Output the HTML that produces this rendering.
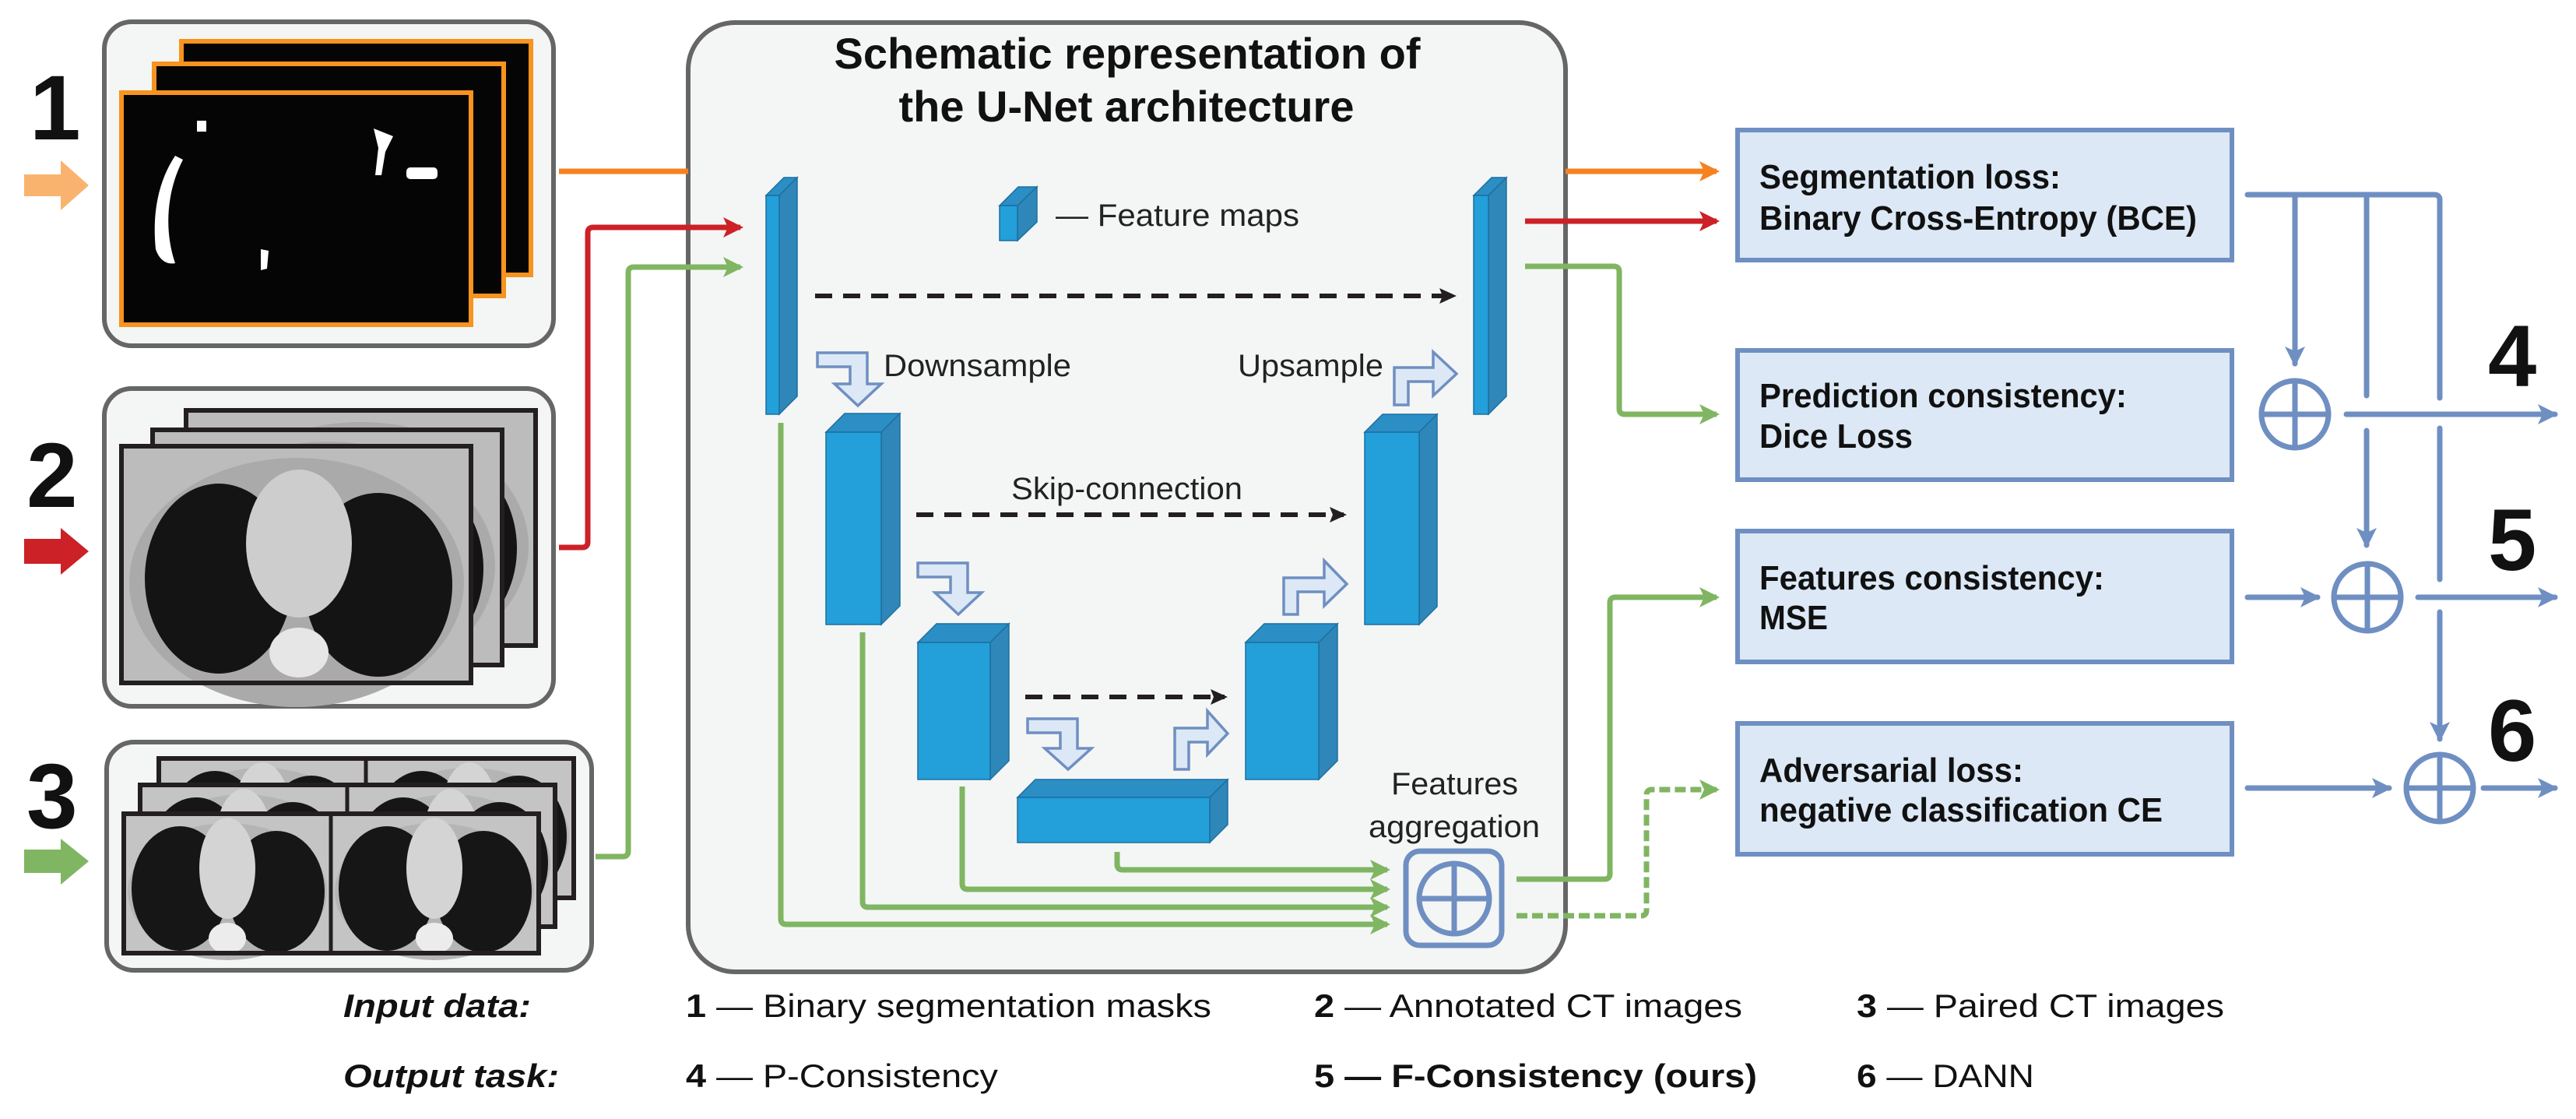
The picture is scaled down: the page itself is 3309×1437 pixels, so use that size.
<!DOCTYPE html>
<html><head><meta charset="utf-8"><style>
html,body{margin:0;padding:0;background:#fff}
svg{display:block}
text{font-family:"Liberation Sans",Arial,sans-serif}
</style></head><body>
<svg width="3309" height="1437" viewBox="0 0 3309 1437" xmlns="http://www.w3.org/2000/svg">
<defs>
<marker id="mo" markerUnits="userSpaceOnUse" markerWidth="34" markerHeight="34" refX="26" refY="17" orient="auto"><path d="M4,4 L30,17 L4,30 L10,17 Z" fill="#f58220"/></marker>
<marker id="mr" markerUnits="userSpaceOnUse" markerWidth="34" markerHeight="34" refX="26" refY="17" orient="auto"><path d="M4,4 L30,17 L4,30 L10,17 Z" fill="#cc2127"/></marker>
<marker id="mg" markerUnits="userSpaceOnUse" markerWidth="34" markerHeight="34" refX="26" refY="17" orient="auto"><path d="M4,4 L30,17 L4,30 L10,17 Z" fill="#80b562"/></marker>
<marker id="mb" markerUnits="userSpaceOnUse" markerWidth="34" markerHeight="34" refX="26" refY="17" orient="auto"><path d="M4,4 L30,17 L4,30 L10,17 Z" fill="#6f8fc2"/></marker>
<marker id="mk" markerUnits="userSpaceOnUse" markerWidth="30" markerHeight="30" refX="22" refY="15" orient="auto"><path d="M4,5 L26,15 L4,25 L8,15 Z" fill="#231f20"/></marker>
<g id="ct2">
<rect x="0" y="0" width="449" height="304" fill="#bcbcbc"/>
<ellipse cx="225" cy="175" rx="215" ry="160" fill="#aaaaaa"/>
<ellipse cx="125" cy="170" rx="95" ry="122" fill="#141414"/>
<ellipse cx="330" cy="178" rx="95" ry="118" fill="#141414"/>
<ellipse cx="228" cy="125" rx="68" ry="95" fill="#cdcdcd"/>
<ellipse cx="228" cy="265" rx="38" ry="32" fill="#e6e6e6"/>
</g>
<g id="ct3">
<rect x="0" y="0" width="266" height="179" fill="#c4c4c4"/>
<ellipse cx="133" cy="100" rx="128" ry="88" fill="#b5b5b5"/>
<ellipse cx="72" cy="96" rx="62" ry="80" fill="#161616"/>
<ellipse cx="196" cy="100" rx="62" ry="78" fill="#161616"/>
<ellipse cx="133" cy="70" rx="36" ry="65" fill="#d4d4d4"/>
<ellipse cx="133" cy="160" rx="24" ry="20" fill="#ececec"/>
</g>
<clipPath id="c2a"><rect x="0" y="0" width="449" height="304"/></clipPath>
</defs>

<!-- number labels & fat arrows -->
<text x="38" y="179" font-size="118" font-weight="bold" fill="#111">1</text>
<text x="34" y="651" font-size="118" font-weight="bold" fill="#111">2</text>
<text x="34" y="1063" font-size="118" font-weight="bold" fill="#111">3</text>
<path d="M31,224 H78 V206 L114,238 L78,270 V252 H31 Z" fill="#f9b36e"/>
<path d="M31,692 H78 V678 L114,708 L78,738 V724 H31 Z" fill="#cc2127"/>
<path d="M31,1091 H78 V1077 L114,1106 L78,1136 V1121 H31 Z" fill="#80b562"/>

<!-- Input box 1 -->
<rect x="134" y="28" width="577" height="416" rx="35" fill="#f4f6f5" stroke="#666" stroke-width="6"/>
<rect x="233" y="53" width="449" height="300" fill="#050505" stroke="#f7931e" stroke-width="6"/>
<rect x="198" y="82" width="449" height="298" fill="#050505" stroke="#f7931e" stroke-width="6"/>
<rect x="156" y="119" width="449" height="298" fill="#050505" stroke="#f7931e" stroke-width="6"/>
<path d="M225,200 C205,230 195,270 200,320 C205,335 215,340 225,338 C212,300 212,250 235,205 Z" fill="#fff"/>
<rect x="253" y="155" width="12" height="14" fill="#fff"/>
<path d="M480,165 L505,175 L495,195 L490,225 L482,225 L486,190 Z" fill="#fff"/>
<rect x="522" y="215" width="40" height="15" rx="5" fill="#fff"/>
<path d="M335,320 L345,322 L343,345 L335,347 Z" fill="#fff"/>

<!-- Input box 2 -->
<rect x="134" y="499" width="577" height="408" rx="35" fill="#f4f6f5" stroke="#666" stroke-width="6"/>
<g transform="translate(239,527)"><use href="#ct2" transform="scale(1,0.995)"/></g>
<rect x="239" y="527" width="449" height="302" fill="none" stroke="#231f20" stroke-width="6"/>
<g transform="translate(196,552)"><use href="#ct2"/></g>
<rect x="196" y="552" width="449" height="302" fill="none" stroke="#231f20" stroke-width="6"/>
<g transform="translate(156,573)"><use href="#ct2"/></g>
<rect x="156" y="573" width="449" height="304" fill="none" stroke="#231f20" stroke-width="6"/>

<!-- Input box 3 -->
<rect x="137" y="953" width="623" height="293" rx="35" fill="#f4f6f5" stroke="#666" stroke-width="6"/>
<use href="#ct3" x="204" y="974"/><use href="#ct3" x="470" y="974"/>
<rect x="204" y="974" width="533" height="179" fill="none" stroke="#231f20" stroke-width="6"/>
<line x1="470" y1="974" x2="470" y2="1153" stroke="#231f20" stroke-width="5"/>
<use href="#ct3" x="180" y="1008"/><use href="#ct3" x="446" y="1008"/>
<rect x="180" y="1008" width="533" height="182" fill="none" stroke="#231f20" stroke-width="6"/>
<line x1="446" y1="1008" x2="446" y2="1190" stroke="#231f20" stroke-width="5"/>
<use href="#ct3" x="159" y="1045"/><use href="#ct3" x="425" y="1045"/>
<rect x="159" y="1045" width="533" height="179" fill="none" stroke="#231f20" stroke-width="6"/>
<line x1="425" y1="1045" x2="425" y2="1224" stroke="#231f20" stroke-width="5"/>

<!-- U-Net big box -->
<rect x="884" y="29" width="1127" height="1219" rx="60" fill="#f4f6f5" stroke="#666" stroke-width="6"/>
<text x="1448" y="88" font-size="56" font-weight="bold" text-anchor="middle" textLength="753" lengthAdjust="spacingAndGlyphs" fill="#111">Schematic representation of</text>
<text x="1447" y="156" font-size="56" font-weight="bold" text-anchor="middle" textLength="585" lengthAdjust="spacingAndGlyphs" fill="#111">the U-Net architecture</text>

<!-- input connectors -->
<path d="M718,220 H884" stroke="#f58220" stroke-width="7" fill="none"/>
<path d="M718,703 H748 Q755,703 755,696 V299 Q755,292 762,292 H951" stroke="#cc2127" stroke-width="7" fill="none" marker-end="url(#mr)"/>
<path d="M765,1100 H800 Q807,1100 807,1093 V350 Q807,343 814,343 H951" stroke="#80b562" stroke-width="7" fill="none" marker-end="url(#mg)"/>

<!-- cuboids -->
<g stroke="#1d6fa0" stroke-width="1.5">
<!-- left thin -->
<polygon points="984,251 1007,228 1024,228 1001,251" fill="#2b8fc6"/><polygon points="1001,251 1024,228 1024,509 1001,532" fill="#2f86b9"/><rect x="984" y="251" width="17" height="281" fill="#239fd9"/>
<!-- legend -->
<polygon points="1284,264 1308,240 1332,240 1307,264" fill="#2b8fc6"/><polygon points="1307,264 1332,240 1332,285 1307,309" fill="#2f86b9"/><rect x="1284" y="264" width="23" height="45" fill="#239fd9"/>
<!-- right thin -->
<polygon points="1893,251 1916,228 1935,228 1912,251" fill="#2b8fc6"/><polygon points="1912,251 1935,228 1935,509 1912,532" fill="#2f86b9"/><rect x="1893" y="251" width="19" height="281" fill="#239fd9"/>
<!-- block2 L -->
<polygon points="1061,555 1085,531 1156,531 1132,555" fill="#2b8fc6"/><polygon points="1132,555 1156,531 1156,778 1132,802" fill="#2f86b9"/><rect x="1061" y="555" width="71" height="247" fill="#239fd9"/>
<!-- block3 L -->
<polygon points="1179,825 1203,801 1296,801 1272,825" fill="#2b8fc6"/><polygon points="1272,825 1296,801 1296,977 1272,1001" fill="#2f86b9"/><rect x="1179" y="825" width="93" height="176" fill="#239fd9"/>
<!-- bottom -->
<polygon points="1307,1024 1330,1001 1577,1001 1554,1024" fill="#2b8fc6"/><polygon points="1554,1024 1577,1001 1577,1059 1554,1082" fill="#2f86b9"/><rect x="1307" y="1024" width="247" height="58" fill="#239fd9"/>
<!-- block3 R -->
<polygon points="1600,825 1624,801 1718,801 1694,825" fill="#2b8fc6"/><polygon points="1694,825 1718,801 1718,977 1694,1001" fill="#2f86b9"/><rect x="1600" y="825" width="94" height="176" fill="#239fd9"/>
<!-- block2 R -->
<polygon points="1753,555 1776,532 1846,532 1823,555" fill="#2b8fc6"/><polygon points="1823,555 1846,532 1846,779 1823,802" fill="#2f86b9"/><rect x="1753" y="555" width="70" height="247" fill="#239fd9"/>
</g>

<text x="1356" y="290" font-size="40" fill="#222" textLength="313" lengthAdjust="spacingAndGlyphs">— Feature maps</text>
<line x1="1047" y1="380" x2="1867" y2="380" stroke="#231f20" stroke-width="6" stroke-dasharray="22,14" marker-end="url(#mk)"/>
<line x1="1177" y1="661" x2="1726" y2="661" stroke="#231f20" stroke-width="6" stroke-dasharray="22,14" marker-end="url(#mk)"/>
<line x1="1317" y1="895" x2="1573" y2="895" stroke="#231f20" stroke-width="6" stroke-dasharray="22,14" marker-end="url(#mk)"/>
<text x="1135" y="483" font-size="40" fill="#222" textLength="241" lengthAdjust="spacingAndGlyphs">Downsample</text>
<text x="1590" y="483" font-size="40" fill="#222" textLength="187" lengthAdjust="spacingAndGlyphs">Upsample</text>
<text x="1299" y="641" font-size="40" fill="#222" textLength="297" lengthAdjust="spacingAndGlyphs">Skip-connection</text>
<text x="1787" y="1020" font-size="40" fill="#222" textLength="163" lengthAdjust="spacingAndGlyphs">Features</text>
<text x="1758" y="1075" font-size="40" fill="#222" textLength="220" lengthAdjust="spacingAndGlyphs">aggregation</text>

<!-- hollow bent arrows -->
<g fill="#dce8f5" stroke="#6f8fc2" stroke-width="3.5" stroke-linejoin="miter">
<path transform="translate(1050,453)" d="M0,0 H64 V40 H82 L52,68 L22,40 H42 V18 H0 Z"/>
<path transform="translate(1179,723)" d="M0,0 H64 V38 H82 L52,66 L22,38 H42 V18 H0 Z"/>
<path transform="translate(1320,923)" d="M0,0 H64 V38 H82 L52,65 L22,38 H42 V18 H0 Z"/>
<path transform="translate(1791,452)" d="M0,68 V20 H50 V0 L80,28 L50,56 V38 H18 V68 Z"/>
<path transform="translate(1649,720)" d="M0,69 V22 H52 V0 L81,30 L52,58 V40 H18 V69 Z"/>
<path transform="translate(1509,909)" d="M0,79 V26 H42 V4 L68,33 L42,60 V44 H18 V79 Z"/>
</g>

<!-- green aggregation lines -->
<g stroke="#80b562" stroke-width="7" fill="none">
<path d="M1003,543 V1180 Q1003,1187 1010,1187 H1782" marker-end="url(#mg)"/>
<path d="M1108,812 V1158 Q1108,1165 1115,1165 H1782" marker-end="url(#mg)"/>
<path d="M1236,1010 V1135 Q1236,1142 1243,1142 H1782" marker-end="url(#mg)"/>
<path d="M1435,1094 V1110 Q1435,1117 1442,1117 H1782" marker-end="url(#mg)"/>
</g>
<rect x="1806" y="1093" width="123" height="121" rx="18" fill="#f4f6f5" stroke="#6f8fc2" stroke-width="7"/>
<circle cx="1868" cy="1154" r="45" fill="none" stroke="#6f8fc2" stroke-width="7"/>
<line x1="1823" y1="1154" x2="1913" y2="1154" stroke="#6f8fc2" stroke-width="7"/>
<line x1="1868" y1="1109" x2="1868" y2="1199" stroke="#6f8fc2" stroke-width="7"/>

<!-- outputs from U-Net -->
<path d="M2011,220 H2205" stroke="#f58220" stroke-width="7" fill="none" marker-end="url(#mo)"/>
<path d="M1959,284 H2205" stroke="#cc2127" stroke-width="7" fill="none" marker-end="url(#mr)"/>
<path d="M1959,342 H2073 Q2080,342 2080,349 V525 Q2080,532 2087,532 H2205" stroke="#80b562" stroke-width="7" fill="none" marker-end="url(#mg)"/>
<path d="M1948,1129 H2061 Q2068,1129 2068,1122 V774 Q2068,767 2075,767 H2205" stroke="#80b562" stroke-width="7" fill="none" marker-end="url(#mg)"/>
<path d="M1948,1176 H2108 Q2115,1176 2115,1169 V1021 Q2115,1014 2122,1014 H2205" stroke="#80b562" stroke-width="7" fill="none" stroke-dasharray="14,6" marker-end="url(#mg)"/>

<!-- loss boxes -->
<g fill="#dce8f5" stroke="#6f8fc2" stroke-width="6">
<rect x="2232" y="167" width="635" height="167"/>
<rect x="2232" y="450" width="635" height="166"/>
<rect x="2232" y="682" width="635" height="168"/>
<rect x="2232" y="929" width="635" height="168"/>
</g>
<g font-size="44" font-weight="bold" fill="#111">
<text x="2260" y="242" textLength="387" lengthAdjust="spacingAndGlyphs">Segmentation loss:</text>
<text x="2260" y="295" textLength="562" lengthAdjust="spacingAndGlyphs">Binary Cross-Entropy (BCE)</text>
<text x="2260" y="523" textLength="472" lengthAdjust="spacingAndGlyphs">Prediction consistency:</text>
<text x="2260" y="575" textLength="197" lengthAdjust="spacingAndGlyphs">Dice Loss</text>
<text x="2260" y="757" textLength="443" lengthAdjust="spacingAndGlyphs">Features consistency:</text>
<text x="2260" y="808" textLength="88" lengthAdjust="spacingAndGlyphs">MSE</text>
<text x="2260" y="1004" textLength="339" lengthAdjust="spacingAndGlyphs">Adversarial loss:</text>
<text x="2260" y="1055" textLength="518" lengthAdjust="spacingAndGlyphs">negative classification CE</text>
</g>

<!-- blue combination network -->
<g stroke="#6f8fc2" stroke-width="7" fill="none" stroke-linecap="round">
<path d="M2887,250 H3127 Q3134,250 3134,257 V511"/>
<path d="M2948,250 V467" marker-end="url(#mb)"/>
<path d="M3040,250 V508"/>
<path d="M3040,553 V700" marker-end="url(#mb)"/>
<path d="M3134,550 V744"/>
<path d="M3134,786 V949" marker-end="url(#mb)"/>
<path d="M3014,532 H3282" marker-end="url(#mb)"/>
<path d="M2887,767 H2977" marker-end="url(#mb)"/>
<path d="M3106,767 H3282" marker-end="url(#mb)"/>
<path d="M2887,1012 H3069" marker-end="url(#mb)"/>
<path d="M3190,1012 H3282" marker-end="url(#mb)"/>
<circle cx="2948" cy="532" r="43"/><line x1="2905" y1="532" x2="2991" y2="532"/><line x1="2948" y1="489" x2="2948" y2="575"/>
<circle cx="3041" cy="767" r="43"/><line x1="2998" y1="767" x2="3084" y2="767"/><line x1="3041" y1="724" x2="3041" y2="810"/>
<circle cx="3134" cy="1012" r="43"/><line x1="3091" y1="1012" x2="3177" y2="1012"/><line x1="3134" y1="969" x2="3134" y2="1055"/>
</g>
<g font-size="112" font-weight="bold" fill="#111">
<text x="3196" y="496">4</text>
<text x="3196" y="732">5</text>
<text x="3196" y="977">6</text>
</g>

<!-- legend -->
<g font-size="42" fill="#111">
<text x="441" y="1306" font-weight="bold" font-style="italic" textLength="241" lengthAdjust="spacingAndGlyphs">Input data:</text>
<text x="441" y="1396" font-weight="bold" font-style="italic" textLength="277" lengthAdjust="spacingAndGlyphs">Output task:</text>
<text x="881" y="1306" textLength="675" lengthAdjust="spacingAndGlyphs"><tspan font-weight="bold">1</tspan> — Binary segmentation masks</text>
<text x="1688" y="1306" textLength="550" lengthAdjust="spacingAndGlyphs"><tspan font-weight="bold">2</tspan> — Annotated CT images</text>
<text x="2385" y="1306" textLength="472" lengthAdjust="spacingAndGlyphs"><tspan font-weight="bold">3</tspan> — Paired CT images</text>
<text x="881" y="1396" textLength="401" lengthAdjust="spacingAndGlyphs"><tspan font-weight="bold">4</tspan> — P-Consistency</text>
<text x="1688" y="1396" font-weight="bold" textLength="569" lengthAdjust="spacingAndGlyphs">5 — F-Consistency (ours)</text>
<text x="2385" y="1396" textLength="228" lengthAdjust="spacingAndGlyphs"><tspan font-weight="bold">6</tspan> — DANN</text>
</g>
</svg>
</body></html>
